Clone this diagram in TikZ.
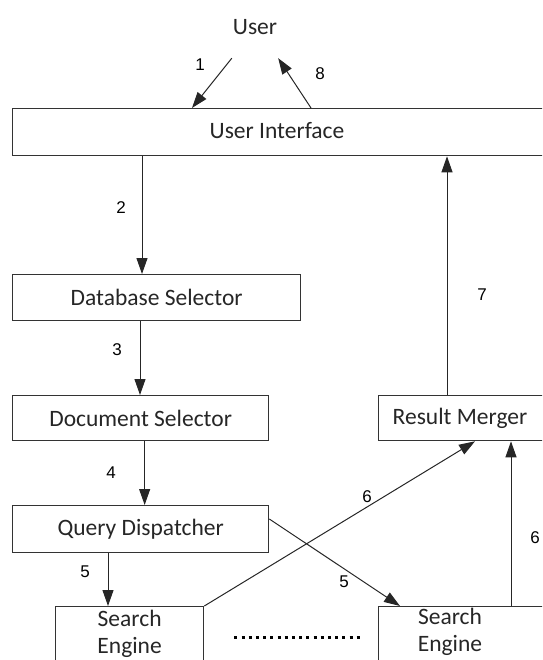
\documentclass[tikz,border=0pt]{standalone}
\usepackage{fontspec}
\setmainfont{Carlito}
\newfontfamily\numfont{Liberation Sans}
\usetikzlibrary{arrows.meta}

\tikzset{
	box/.style={draw=black!80, line width=1.3pt, rectangle, inner sep=0pt,
		font=\fontsize{23.5}{27}\selectfont, align=center, text=black!85},
	lbl/.style={font=\fontsize{23.5}{27}\selectfont, inner sep=0pt, align=center, text=black!85},
	num/.style={font=\numfont\fontsize{17}{17}\selectfont, inner sep=0pt},
	arr/.style={draw=black!85, line width=1pt, -{Triangle[length=16pt,width=11pt]}},
	dots/.style={line width=3pt, dash pattern=on 3pt off 4.2pt}
}

\begin{document}
\begin{tikzpicture}[x=1pt,y=-1pt]
	\useasboundingbox (0,0) rectangle (542,660);
	\clip (0,0) rectangle (542,660);
	%
	\node[lbl, minimum width=46pt, minimum height=62pt] (user) at (255,27) {User};
	\node[box, anchor=north west, minimum width=600pt, minimum height=47pt] (ui) at (12,108) {};
	\node[lbl] (uitext) at (277,131) {User Interface};
	\node[box, anchor=north west, minimum width=288pt, minimum height=46pt] (dbs) at (12,274) {Database Selector};
	\node[box, anchor=north west, minimum width=256pt, minimum height=45pt] (dcs) at (12,395) {Document Selector};
	\node[box, anchor=north west, minimum width=256pt, minimum height=47pt] (qd) at (12,505) {Query Dispatcher};
	\node[box, anchor=north west, minimum width=200pt, minimum height=45pt] (rm) at (378,395) {};
	\node[lbl] (rmtext) at (460,418) {Result Merger};
	\node[box, anchor=north west, minimum width=148pt, minimum height=55pt] (se1) at (55,606) {Search\\Engine};
	\node[box, anchor=north west, minimum width=200pt, minimum height=55pt] (se2) at (378,606) {}; % cut off at the right
	\node[lbl] (se2text) at (450,632) {Search\\Engine};
	%
	\draw[arr] (user.south west) -- ([xshift=180pt]ui.north west);
	\draw[arr] ([xshift=299pt]ui.north west) -- (user.south east);
	\draw[arr] ([xshift=130pt]ui.south west) -- ([xshift=130pt]dbs.north west);
	\draw[arr] ([xshift=128pt]dbs.south west) -- ([xshift=128pt]dcs.north west);
	\draw[arr] ([xshift=4pt]dcs.south) -- ([xshift=4pt]qd.north);
	\draw[arr] ([xshift=96pt]qd.south west) -- ([xshift=53pt]se1.north west);
	\draw[arr] ([yshift=-14pt]qd.north east) -- ([xshift=22pt]se2.north west);
	\draw[arr] (se1.north east) -- ([xshift=97pt]rm.south west);
	\draw[arr] ([xshift=133pt]se2.north west) -- ([xshift=133pt]rm.south west);
	\draw[arr] ([xshift=69pt]rm.north west) -- ([xshift=435pt]ui.south west);
	\draw[dots] ([xshift=30pt,yshift=-3pt]se1.east) -- ([xshift=-16pt,yshift=-3pt]se2.west);
	%
	\node[num] (n1) at (200,65) {1};
	\node[num] (n8) at (320,74) {8};
	\node[num] (n2) at (121,208) {2};
	\node[num] (n3) at (117,350) {3};
	\node[num] (n4) at (111,473) {4};
	\node[num] (n5a) at (85,572) {5};
	\node[num] (n5b) at (344,582) {5};
	\node[num] (n6a) at (367,497) {6};
	\node[num] (n6b) at (535,538) {6};
	\node[num] (n7) at (482,295) {7};
\end{tikzpicture}
\end{document}
